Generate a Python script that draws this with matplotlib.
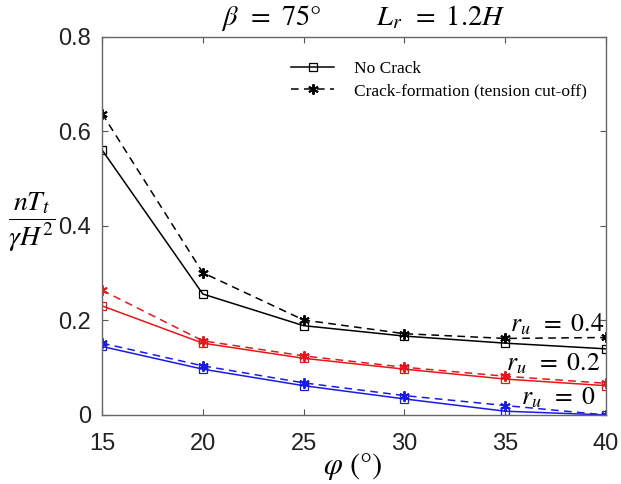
import matplotlib
matplotlib.use('Agg')
import matplotlib.pyplot as plt

plt.rcParams['mathtext.fontset'] = 'stix'

phi = [15, 20, 25, 30, 35, 40]

# ru = 0.4
ru04_nocrack = [0.561, 0.256, 0.189, 0.167, 0.152, 0.140]
ru04_crack = [0.638, 0.301, 0.201, 0.172, 0.162, 0.164]
# ru = 0.2
ru02_nocrack = [0.231, 0.152, 0.120, 0.097, 0.076, 0.062]
ru02_crack = [0.264, 0.157, 0.125, 0.101, 0.082, 0.067]
# ru = 0
ru0_nocrack = [0.145, 0.097, 0.062, 0.034, 0.008, 0.0]
ru0_crack = [0.152, 0.104, 0.068, 0.041, 0.020, 0.0]

xticks = [15, 20, 25, 30, 35, 40]
yticks = [0, 0.2, 0.4, 0.6, 0.8]
ytick_labels = ['0', '0.2', '0.4', '0.6', '0.8']

fig = plt.figure(figsize=(6.21, 4.84), dpi=100)
ax = fig.add_axes([0.1643, 0.1426, 0.8116, 0.781])

ast = (6, 2, 0)
groups = [(ru04_nocrack, ru04_crack, 'black'),
          (ru02_nocrack, ru02_crack, '#e8161b'),
          (ru0_nocrack, ru0_crack, '#1a1ae6')]
for nc, cr, c in groups:
    ax.plot(phi, nc, '-', color=c, lw=1.1, marker='s', ms=5.5,
            mfc='none', mec=c, mew=0.9)
    ax.plot(phi, cr, '--', color=c, lw=1.1, marker=ast, ms=7.5,
            mec=c, mew=1.4, dashes=(5, 3.5))

# legend handles in black
h1, = ax.plot([], [], '-', color='black', lw=1.1, marker='s', ms=5.5,
              mfc='none', mew=0.9)
h2, = ax.plot([], [], '--', color='black', lw=1.1, marker=ast, ms=7.5,
              mew=1.4, dashes=(5, 3.5))
leg = ax.legend([h1, h2], ['No Crack', 'Crack-formation (tension cut-off)'],
                loc='upper left', bbox_to_anchor=(0.375, 0.937), frameon=False,
                prop={'family': 'Liberation Serif', 'size': 12.5},
                handlelength=2.5, handletextpad=1.1, labelspacing=0.35,
                borderpad=0, borderaxespad=0)

ax.set_xlim(15, 40)
ax.set_ylim(0, 0.8)
ax.set_xticks(xticks)
ax.set_yticks(yticks)
ax.set_yticklabels(ytick_labels)
ax.tick_params(direction='in', length=4, width=0.8, color='#555555',
               labelsize=17, labelcolor='#222222', top=True, right=True)
ax.tick_params(axis='x', pad=13)
ax.tick_params(axis='y', pad=8)
for lab in ax.get_xticklabels() + ax.get_yticklabels():
    lab.set_fontfamily('Liberation Sans')
for s in ax.spines.values():
    s.set_color('#666666')
    s.set_linewidth(1.0)

ax.text(39.92, 0.176, r'$r_u\ \,=\ 0.4$', ha='right', va='baseline', fontsize=18.5)
ax.text(39.72, 0.094, r'$r_u\ \,=\ 0.2$', ha='right', va='baseline', fontsize=18.5)
ax.text(39.48, 0.023, r'$r_u\ \,=\ 0$', ha='right', va='baseline', fontsize=18.5)

fig.text(0.585, 0.962, r'$\beta\ \,=\ 75\degree \qquad\ \ L_r\ \,=\ 1.2H$',
         ha='center', va='center', fontsize=20.5)
fig.text(0.568, 0.037, r'$\varphi\ (\degree)$', ha='center', va='center', fontsize=22)
fig.text(0.013, 0.54, r'$\dfrac{nT_t}{\gamma H^2}$', ha='left', va='center',
         fontsize=20)

fig.savefig('out.png', dpi=100)
